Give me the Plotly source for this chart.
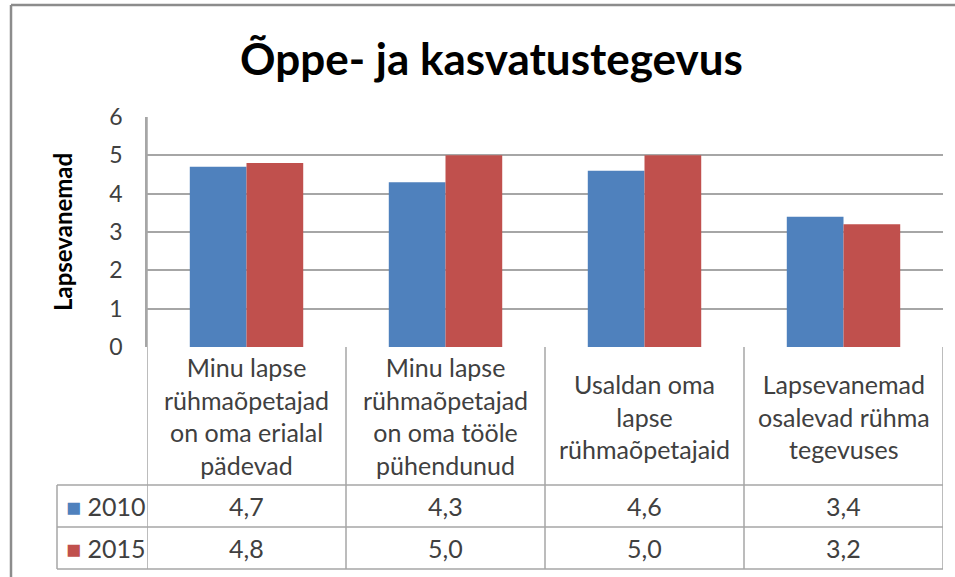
import plotly.graph_objects as go

# data
categories = [
    "Minu lapse<br>rühmaõpetajad<br>on oma erialal<br>pädevad",
    "Minu lapse<br>rühmaõpetajad<br>on oma tööle<br>pühendunud",
    "Usaldan oma<br>lapse<br>rühmaõpetajaid",
    "Lapsevanemad<br>osalevad rühma<br>tegevuses",
]
series_names = ["2010", "2015"]
values_2010 = [4.7, 4.3, 4.6, 3.4]
values_2015 = [4.8, 5.0, 5.0, 3.2]
colors = ["#4F81BD", "#C0504D"]
y_ticks = [0, 1, 2, 3, 4, 5, 6]

W, H = 955, 577
L, R, T, B = 147, 12, 117, 230
plot_w = W - L - R
plot_h = H - T - B
FONT = "Lato"
TXT = "#404040"
GRID = "#a6a6a6"


def py(p):
    # pixel row -> paper y
    return (H - B - p) / plot_h


def px_(p):
    # pixel column -> paper x
    return (p - L) / plot_w


x_idx = list(range(len(categories)))
fig = go.Figure()
for name, vals, col in zip(series_names, [values_2010, values_2015], colors):
    fig.add_trace(go.Bar(x=x_idx, y=vals, name=name, marker_color=col,
                         marker_line_width=0, showlegend=False))

shapes = []
# table horizontal lines
for p in [485, 527, 569]:
    shapes.append(dict(type="line", xref="paper", yref="paper", x0=px_(57), x1=1,
                       y0=py(p), y1=py(p), line=dict(color=GRID, width=1.5)))
# table vertical lines
for xv in [-0.5, 0.5, 1.5, 2.5, 3.5]:
    shapes.append(dict(type="line", xref="x", yref="paper", x0=xv, x1=xv,
                       y0=1 if xv == -0.5 else 0, y1=py(569), line=dict(color=GRID, width=1.5)))
shapes.append(dict(type="line", xref="paper", yref="paper", x0=px_(57), x1=px_(57),
                   y0=py(485), y1=py(569), line=dict(color=GRID, width=1.5)))
# outer chart frame (only top and left edges are in view)
shapes.append(dict(type="line", xref="paper", yref="paper", x0=px_(11), x1=px_(960),
                   y0=py(5), y1=py(5), line=dict(color="#8c8c8c", width=2.5)))
shapes.append(dict(type="line", xref="paper", yref="paper", x0=px_(11), x1=px_(11),
                   y0=py(5), y1=py(580), line=dict(color="#8c8c8c", width=2.5)))

annotations = []
for i, c in enumerate(categories):
    annotations.append(dict(x=i, y=py(416), xref="x", yref="paper", text=c, showarrow=False,
                            font=dict(family=FONT, size=25, color=TXT), align="center",
                            yanchor="middle"))
    for vals, row_y in [(values_2010, 506), (values_2015, 548)]:
        annotations.append(dict(x=i, y=py(row_y), xref="x", yref="paper",
                                text=f"{vals[i]:.1f}".replace(".", ","), showarrow=False,
                                font=dict(family=FONT, size=25, color=TXT), yanchor="middle"))
for name, col, row_y in zip(series_names, colors, [506, 548]):
    annotations.append(dict(x=px_(64), y=py(row_y), xref="paper", yref="paper", xanchor="left",
                            text=f"<span style='color:{col}'>■</span> {name}", showarrow=False,
                            font=dict(family=FONT, size=25, color=TXT), yanchor="middle"))
annotations.append(dict(x=px_(62), y=py(232), xref="paper", yref="paper", text="<b>Lapsevanemad</b>",
                        textangle=-90, showarrow=False, xanchor="center", yanchor="middle",
                        font=dict(family=FONT, size=24, color="black")))
annotations.append(dict(x=px_(491), y=py(58), xref="paper", yref="paper",
                        text="<b>Õppe- ja kasvatustegevus</b>", showarrow=False,
                        xanchor="center", yanchor="middle",
                        font=dict(family=FONT, size=44, color="black")))

fig.update_layout(
    width=W, height=H, margin=dict(l=L, r=R, t=T, b=B),
    paper_bgcolor="white", plot_bgcolor="white",
    barmode="group", bargap=0.43, bargroupgap=0,
    shapes=shapes, annotations=annotations,
)
fig.update_xaxes(range=[-0.5, 3.5], showticklabels=False, showgrid=False, zeroline=False,
                 showline=False)
fig.update_yaxes(range=[0, 6], tickvals=y_ticks, showgrid=True, gridcolor=GRID, gridwidth=1.5,
                 zeroline=False, showline=True, linecolor=GRID, linewidth=1.5,
                 tickfont=dict(family=FONT, size=23, color=TXT), ticks="", ticklabelstandoff=18)

fig.write_html("out.html", config={"displayModeBar": False},
               post_script="document.body.style.margin='0';")
